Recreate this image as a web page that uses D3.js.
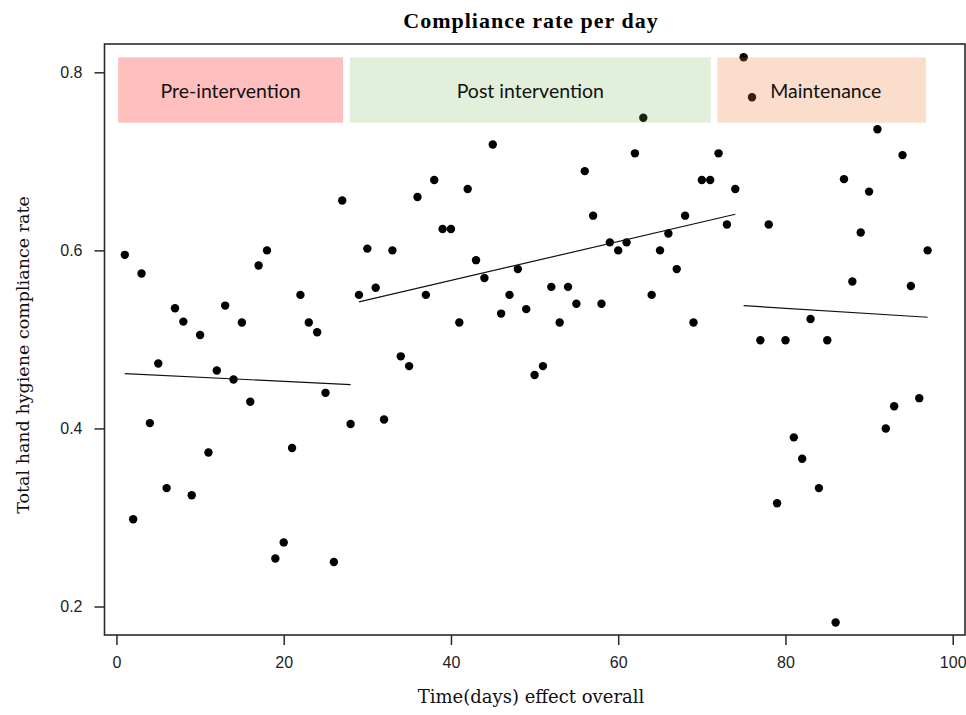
<!DOCTYPE html>
<html>
<head>
<meta charset="utf-8">
<script src="https://cdn.jsdelivr.net/npm/d3@7"></script>
<style>
  body { margin: 0; background: #fff; }
  svg { display: block; }
</style>
</head>
<body>
<svg id="chart" width="966" height="715"></svg>
<script>
// compliance rate per day (days 1..97)
var days = d3.range(1, 98);
var rates = [
  0.595, 0.298, 0.574, 0.406, 0.473, 0.333, 0.535, 0.520, 0.325, 0.505,
  0.373, 0.465, 0.538, 0.455, 0.519, 0.430, 0.583, 0.600, 0.254, 0.272,
  0.378, 0.550, 0.519, 0.508, 0.440, 0.250, 0.656, 0.405, 0.550, 0.602,
  0.558, 0.410, 0.600, 0.481, 0.470, 0.660, 0.550, 0.679, 0.624, 0.624,
  0.519, 0.669, 0.589, 0.569, 0.719, 0.529, 0.550, 0.579, 0.534, 0.460,
  0.470, 0.559, 0.519, 0.559, 0.540, 0.689, 0.639, 0.540, 0.609, 0.600,
  0.609, 0.709, 0.749, 0.550, 0.600, 0.619, 0.579, 0.639, 0.519, 0.679,
  0.679, 0.709, 0.629, 0.669, 0.817, 0.772, 0.499, 0.629, 0.316, 0.499,
  0.390, 0.366, 0.523, 0.333, 0.499, 0.182, 0.680, 0.565, 0.620, 0.666,
  0.736, 0.400, 0.425, 0.707, 0.560, 0.434, 0.600
];

// phases: label box extents (days / rate) and the fitted trend end values
var phaseNames = ["Pre-intervention", "Post intervention", "Maintenance"];
var phaseColors = ["rgb(255,0,0)", "rgb(112,173,71)", "rgb(237,125,49)"];
var boxFrom = [0.2, 27.9, 71.86];
var boxTo = [27.1, 71.07, 96.8];
var boxTop = 0.8168, boxBottom = 0.7434;
var trendDays = [[1, 28], [29, 74], [75, 97]];
var trendRates = [[0.4616, 0.4492], [0.5421, 0.6406], [0.5379, 0.5249]];

var xTicks = [0, 20, 40, 60, 80, 100];
var yTicks = [0.2, 0.4, 0.6, 0.8];

var svg = d3.select("#chart");
var plotLeft = 104.5, plotRight = 965, plotTop = 44, plotBottom = 635;

var x = d3.scaleLinear().domain([-1.43, 101.47]).range([plotLeft, plotRight]);
var y = d3.scaleLinear().domain([0.168, 0.8318]).range([plotBottom, plotTop]);

var points = days.map(function (d, i) { return { day: d, rate: rates[i] }; });

// dots
svg.append("g")
  .selectAll("circle")
  .data(points)
  .enter().append("circle")
  .attr("cx", function (d) { return x(d.day); })
  .attr("cy", function (d) { return y(d.rate); })
  .attr("r", 4.2)
  .attr("fill", "#000");

// trend lines
svg.append("g")
  .selectAll("line")
  .data(trendDays)
  .enter().append("line")
  .attr("x1", function (d) { return x(d[0]); })
  .attr("x2", function (d) { return x(d[1]); })
  .attr("y1", function (d, i) { return y(trendRates[i][0]); })
  .attr("y2", function (d, i) { return y(trendRates[i][1]); })
  .attr("stroke", "#111")
  .attr("stroke-width", 1.2);

// phase boxes sit on top of the dots, a little see-through
var boxes = svg.append("g")
  .selectAll("g")
  .data(phaseNames)
  .enter().append("g");

boxes.append("rect")
  .attr("x", function (d, i) { return x(boxFrom[i]); })
  .attr("width", function (d, i) { return x(boxTo[i]) - x(boxFrom[i]); })
  .attr("y", y(boxTop))
  .attr("height", y(boxBottom) - y(boxTop))
  .attr("fill", function (d, i) { return phaseColors[i]; })
  .attr("fill-opacity", function (d, i) { return i == 1 ? 0.2 : 0.25; });

boxes.append("text")
  .attr("x", function (d, i) { return (x(boxFrom[i]) + x(boxTo[i])) / 2 + (i == 2 ? 4 : 0); })
  .attr("y", (y(boxTop) + y(boxBottom)) / 2 + 1)
  .attr("dy", "0.35em")
  .attr("text-anchor", "middle")
  .style("font-family", "Lato, 'Open Sans', sans-serif")
  .style("font-size", "19.5px")
  .attr("fill", "#111")
  .text(function (d) { return d; });

// frame
svg.append("rect")
  .attr("x", plotLeft).attr("y", plotTop)
  .attr("width", plotRight - plotLeft).attr("height", plotBottom - plotTop)
  .attr("fill", "none")
  .attr("stroke", "#2a2a2a")
  .attr("stroke-width", 1.6);

// axes
var xAxis = svg.append("g")
  .attr("transform", "translate(0," + plotBottom + ")")
  .call(d3.axisBottom(x).tickValues(xTicks).tickSize(10).tickPadding(12)
    .tickFormat(d3.format("d")));
var yAxis = svg.append("g")
  .attr("transform", "translate(" + plotLeft + ",0)")
  .call(d3.axisLeft(y).tickValues(yTicks).tickSize(10).tickPadding(12)
    .tickFormat(d3.format(".1f")));

[xAxis, yAxis].forEach(function (g) {
  g.select(".domain").remove();
  g.selectAll(".tick line").attr("stroke", "#2a2a2a").attr("stroke-width", 1.5);
  g.selectAll(".tick text")
    .attr("fill", "#222")
    .style("font-family", "'Liberation Sans', Arial, sans-serif")
    .style("font-size", "16px");
});

// titles
svg.append("text")
  .attr("x", 531).attr("y", 28)
  .attr("text-anchor", "middle")
  .style("font-family", "'Liberation Serif', 'Times New Roman', serif")
  .style("font-weight", "bold")
  .style("font-size", "22px")
  .style("letter-spacing", "1px")
  .text("Compliance rate per day");

svg.append("text")
  .attr("x", 531).attr("y", 703)
  .attr("text-anchor", "middle")
  .style("font-family", "'DejaVu Serif', serif")
  .style("font-size", "18px")
  .attr("fill", "#111")
  .text("Time(days) effect overall");

svg.append("text")
  .attr("transform", "translate(29,355) rotate(-90)")
  .attr("text-anchor", "middle")
  .style("font-family", "'DejaVu Serif', serif")
  .style("font-size", "17.5px")
  .attr("fill", "#111")
  .text("Total hand hygiene compliance rate");
</script>
</body>
</html>
